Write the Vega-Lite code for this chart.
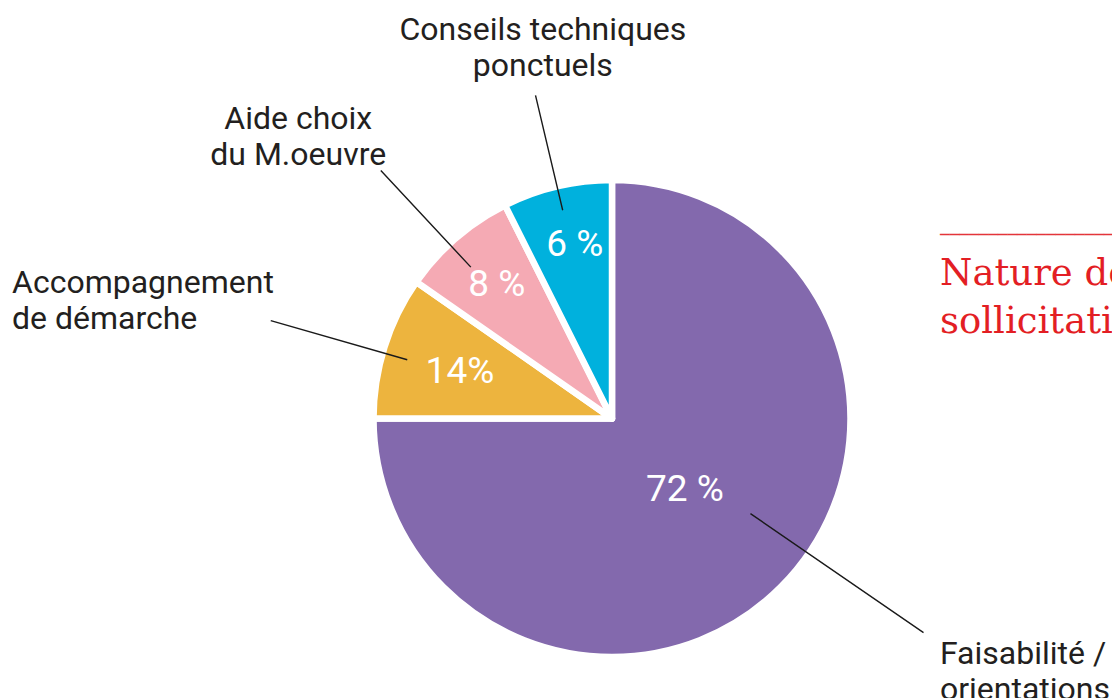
{
  "$schema": "https://vega.github.io/schema/vega-lite/v6.json",
  "width": 1000,
  "height": 559,
  "autosize": {"type": "none"},
  "padding": {"left": 112, "top": 139, "right": 0, "bottom": 0},
  "background": "#ffffff",
  "title": {
    "text": "──────────────────",
    "subtitle": ["Nature des", "sollicitations"],
    "orient": "top",
    "anchor": "start",
    "frame": "group",
    "dx": 828,
    "offset": -522,
    "font": "DejaVu Sans",
    "fontSize": 16,
    "fontWeight": "normal",
    "color": "#e4343a",
    "subtitleFont": "DejaVu Serif",
    "subtitleFontSize": 37,
    "subtitleColor": "#e31e24",
    "subtitleLineHeight": 48,
    "subtitlePadding": 13
  },
  "data": {
    "values": [
      {"nature": "Faisabilité / orientations", "part": 75, "label": "72 %", "rank": 1, "outer": "Faisabilité /\norientations"},
      {"nature": "Accompagnement de démarche", "part": 9.7, "label": "14%", "rank": 2, "outer": "Accompagnement\nde démarche"},
      {"nature": "Aide choix du M.oeuvre", "part": 7.9, "label": "8 %", "rank": 3, "outer": "Aide choix\ndu M.oeuvre"},
      {"nature": "Conseils techniques ponctuels", "part": 7.4, "label": "6 %", "rank": 4, "outer": "Conseils techniques\nponctuels"}
    ]
  },
  "encoding": {
    "theta": {"field": "part", "type": "quantitative", "stack": true},
    "order": {"field": "rank", "type": "quantitative", "sort": "ascending"}
  },
  "resolve": {"scale": {"theta": "independent"}},
  "layer": [
    {
      "mark": {"type": "arc", "radius": 238.5, "stroke": "#ffffff", "strokeWidth": 6.5, "strokeJoin": "round"},
      "encoding": {
        "color": {
          "field": "nature",
          "type": "nominal",
          "legend": null,
          "scale": {
            "domain": ["Faisabilité / orientations", "Accompagnement de démarche", "Aide choix du M.oeuvre", "Conseils techniques ponctuels"],
            "range": ["#8369ad", "#edb43e", "#f5aab4", "#00b1dd"]
          }
        }
      }
    },
    {
      "mark": {"type": "arc", "filled": false, "stroke": "#1a1a1a", "strokeWidth": 1.4, "radius": 378, "radius2": 168, "padAngle": 3.1416, "thetaOffset": 0.99484},
      "encoding": {
        "theta": {"field": "part", "type": "quantitative", "stack": true, "scale": {"range": [0, 3.14159265]}},
        "opacity": {"condition": {"test": "datum.rank == 1", "value": 1}, "value": 0}
      }
    },
    {
      "mark": {"type": "arc", "filled": false, "stroke": "#1a1a1a", "strokeWidth": 1.4, "radius": 355, "radius2": 213, "padAngle": 3.1416, "thetaOffset": -0.0255},
      "encoding": {"opacity": {"condition": {"test": "datum.rank == 2", "value": 1}, "value": 0}}
    },
    {
      "mark": {"type": "arc", "filled": false, "stroke": "#1a1a1a", "strokeWidth": 1.4, "radius": 339, "radius2": 207, "padAngle": 3.1416, "thetaOffset": -0.0373},
      "encoding": {"opacity": {"condition": {"test": "datum.rank == 3", "value": 1}, "value": 0}}
    },
    {
      "mark": {"type": "arc", "filled": false, "stroke": "#1a1a1a", "strokeWidth": 1.4, "radius": 332, "radius2": 214, "padAngle": 3.1416, "thetaOffset": 0},
      "encoding": {"opacity": {"condition": {"test": "datum.rank == 4", "value": 1}, "value": 0}}
    },
    {
      "mark": {"type": "text", "radius": 404, "thetaOffset": -0.1618, "align": "left", "baseline": "middle", "lineBreak": "\n", "font": "Roboto", "fontSize": 32, "lineHeight": 36, "fill": "#231f20"},
      "encoding": {"text": {"condition": {"test": "datum.rank == 1", "field": "outer"}, "value": ""}}
    },
    {
      "mark": {"type": "text", "radius": 615, "thetaOffset": -0.0834, "align": "left", "baseline": "middle", "lineBreak": "\n", "font": "Roboto", "fontSize": 32, "lineHeight": 36, "fill": "#231f20"},
      "encoding": {"text": {"condition": {"test": "datum.rank == 2", "field": "outer"}, "value": ""}}
    },
    {
      "mark": {"type": "text", "radius": 434, "thetaOffset": -0.0949, "align": "center", "baseline": "middle", "lineBreak": "\n", "font": "Roboto", "fontSize": 32, "lineHeight": 36, "fill": "#231f20"},
      "encoding": {"text": {"condition": {"test": "datum.rank == 3", "field": "outer"}, "value": ""}}
    },
    {
      "mark": {"type": "text", "radius": 395, "thetaOffset": 0.0565, "align": "center", "baseline": "middle", "lineBreak": "\n", "font": "Roboto", "fontSize": 32, "lineHeight": 36, "fill": "#231f20"},
      "encoding": {"text": {"condition": {"test": "datum.rank == 4", "field": "outer"}, "value": ""}}
    },
    {
      "mark": {"type": "text", "radius": 102.5, "thetaOffset": -0.007, "align": "center", "baseline": "middle", "font": "Roboto", "fontSize": 37, "fill": "#ffffff"},
      "encoding": {"text": {"condition": {"test": "datum.rank == 1", "field": "label"}, "value": ""}}
    },
    {
      "mark": {"type": "text", "radius": 159, "thetaOffset": -0.008, "align": "center", "baseline": "middle", "font": "Roboto", "fontSize": 37, "fill": "#ffffff"},
      "encoding": {"text": {"condition": {"test": "datum.rank == 2", "field": "label"}, "value": ""}}
    },
    {
      "mark": {"type": "text", "radius": 176, "thetaOffset": 0, "align": "center", "baseline": "middle", "font": "Roboto", "fontSize": 37, "fill": "#ffffff"},
      "encoding": {"text": {"condition": {"test": "datum.rank == 3", "field": "label"}, "value": ""}}
    },
    {
      "mark": {"type": "text", "radius": 177, "thetaOffset": 0.0213, "align": "center", "baseline": "middle", "font": "Roboto", "fontSize": 37, "fill": "#ffffff"},
      "encoding": {"text": {"condition": {"test": "datum.rank == 4", "field": "label"}, "value": ""}}
    }
  ],
  "config": {"view": {"stroke": null}}
}
